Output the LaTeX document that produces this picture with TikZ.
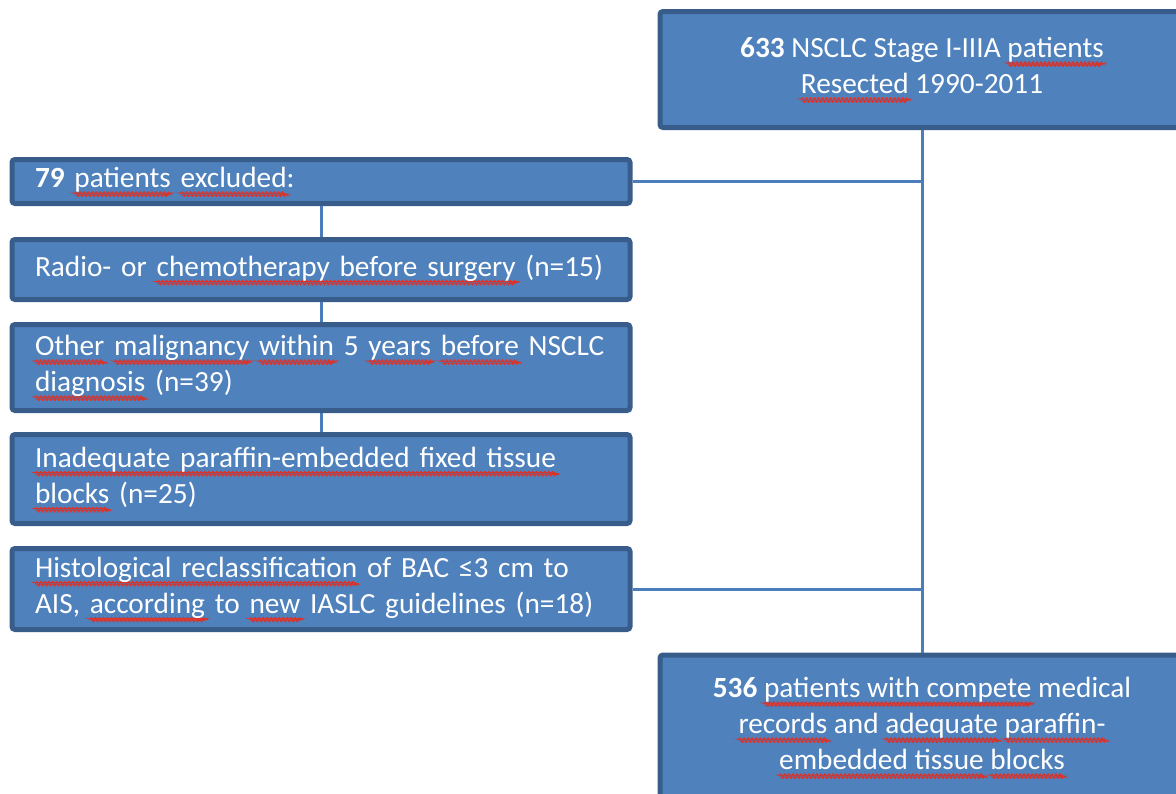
\documentclass[tikz,border=0pt]{standalone}
\usepackage{fontspec}
\setmainfont{Carlito}
\usetikzlibrary{decorations.pathmorphing}
\definecolor{boxfill}{HTML}{4F81BD}
\definecolor{boxline}{HTML}{385D8A}
\definecolor{linkline}{HTML}{4A7EBB}
\definecolor{spellred}{HTML}{D8342C}
% red wavy spell-check underline
\newsavebox\spellbox
\newcommand\spell[1]{\leavevmode\sbox\spellbox{#1}%
  \rlap{\tikz[baseline=0pt]\draw[draw=spellred,line width=0.9pt,decorate,
    decoration={snake,amplitude=1.1pt,segment length=4pt}]
    (0pt,-6.5pt) -- (\wd\spellbox,-6.5pt);}\usebox\spellbox}

\begin{document}
\begin{tikzpicture}[x=1pt,y=-1pt,
    flowbox/.style={draw=boxline,fill=boxfill,line width=5pt,rounded corners=3pt,
      text=white,font=\fontsize{29.3}{36}\selectfont,inner sep=0pt},
    leftbox/.style={flowbox,minimum width=618,text width=572,align=left},
    mainbox/.style={flowbox,minimum width=524,align=center},
    link/.style={draw=linkline,line width=3pt}]
  \useasboundingbox (0,0) rectangle (1176,793);
  \clip (0,0) rectangle (1176,793);

  \node[mainbox,minimum height=116] (total) at (922,69.5)
    {\textbf{633} NSCLC Stage I-IIIA \spell{patients}\\ \spell{Resected} 1990-2011};
  \node[mainbox,minimum height=145] (final) at (922,727.5)
    {\textbf{536} \spell{patients with compete} medical\\ \spell{records} and \spell{adequate} \spell{paraffin-}\\ \spell{embedded tissue} \spell{blocks}};

  \node[leftbox,minimum height=44] (excl) at (321,181.5)
    {\textbf{79} \spell{patients} \spell{excluded}:};
  \node[leftbox,minimum height=60] (radio) at (321,269.5)
    {Radio-~or~\spell{chemotherapy before surgery}~(n=15)};
  \node[leftbox,minimum height=86] (other) at (321,367.5)
    {\spell{Other}~\spell{malignancy}~\spell{within}~5~\spell{years}~\spell{before}~NSCLC\\ \spell{diagnosis} (n=39)};
  \node[leftbox,minimum height=89] (inadeq) at (321,479)
    {\spell{Inadequate paraffin-embedded fixed tissue}\\ \spell{blocks} (n=25)};
  \node[leftbox,minimum height=81] (histo) at (321,589)
    {\spell{Histological reclassification}~of~BAC~≤3~cm~to\\ AIS, \spell{according} to \spell{new} IASLC guidelines~(n=18)};

  % main flow and exclusions
  \draw[link] (total.south) -- (final.north);
  \draw[link] (excl.east) -- (excl.east -| total.south);
  \draw[link] (histo.east) -- (histo.east -| total.south);
  \draw[link] (excl.south) -- (radio.north);
  \draw[link] (radio.south) -- (other.north);
  \draw[link] (other.south) -- (inadeq.north);
\end{tikzpicture}
\end{document}
